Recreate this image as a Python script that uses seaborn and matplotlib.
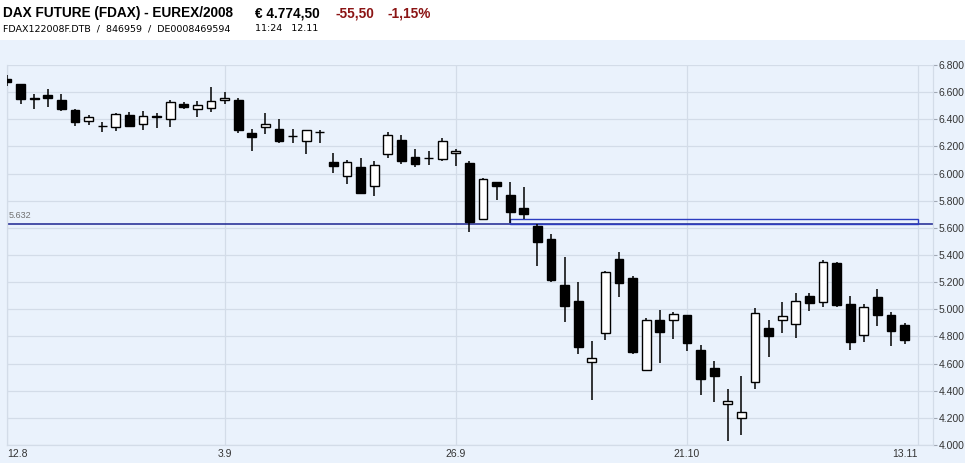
import numpy as np
import pandas as pd
import matplotlib
matplotlib.use("Agg")
import matplotlib.pyplot as plt
from matplotlib.patches import Rectangle
from matplotlib.ticker import MultipleLocator, FuncFormatter
import seaborn as sns

# daily OHLC, FDAX Dec 2008, 12.08.2008 - 12.11.2008
opens = [6697, 6660, 6556, 6579, 6542, 6468, 6390, 6351, 6341, 6429,
         6367, 6422, 6400, 6510, 6474, 6481, 6540, 6542, 6297, 6341,
         6328, 6279, 6242, 6307, 6088, 5980, 6048, 5911, 6142, 6247,
         6120, 6118, 6107, 6154, 6078, 5668, 5938, 5842, 5746, 5616,
         5518, 5179, 5061, 4609, 4823, 5370, 5231, 4555, 4921, 4919,
         4958, 4698, 4565, 4300, 4197, 4462, 4862, 4919, 4889, 5096,
         5052, 5341, 5039, 4809, 5091, 4956, 4882]
highs = [6726, 6662, 6584, 6623, 6584, 6476, 6432, 6382, 6447, 6454,
         6461, 6449, 6544, 6527, 6535, 6640, 6599, 6555, 6326, 6444,
         6400, 6326, 6319, 6321, 6154, 6100, 6115, 6093, 6304, 6286,
         6181, 6164, 6262, 6181, 6093, 5966, 5940, 5940, 5903, 5626,
         5555, 5385, 5203, 4766, 5282, 5424, 5248, 4938, 4995, 4982,
         4960, 4737, 4619, 4413, 4508, 5007, 4921, 5051, 5118, 5120,
         5363, 5348, 5098, 5037, 5150, 4982, 4901]
lows = [6647, 6513, 6474, 6493, 6463, 6351, 6358, 6309, 6316, 6343,
        6321, 6338, 6343, 6478, 6419, 6456, 6513, 6301, 6169, 6292,
        6223, 6223, 6146, 6228, 6006, 5925, 5847, 5835, 6117, 6068,
        6048, 6065, 6095, 6058, 5572, 5658, 5805, 5638, 5663, 5319,
        5203, 4909, 4671, 4332, 4774, 5093, 4671, 4545, 4607, 4781,
        4695, 4368, 4319, 4032, 4074, 4413, 4651, 4828, 4790, 4990,
        5015, 5019, 4698, 4761, 4879, 4730, 4744]
closes = [6672, 6552, 6553, 6555, 6478, 6382, 6415, 6349, 6441, 6353,
          6422, 6418, 6527, 6493, 6505, 6537, 6557, 6321, 6272, 6365,
          6240, 6276, 6319, 6305, 6058, 6085, 5859, 6061, 6284, 6095,
          6073, 6116, 6238, 6169, 5646, 5958, 5911, 5719, 5704, 5498,
          5216, 5027, 4724, 4639, 5275, 5196, 4688, 4921, 4835, 4963,
          4754, 4489, 4511, 4324, 4241, 4971, 4806, 4948, 5059, 5049,
          5346, 5034, 4757, 5015, 4960, 4838, 4775]

tick_labels = ["12.8", "3.9", "26.9", "21.10", "13.11"]
ref_level = 5632
gap_low, gap_high = 5632, 5668
gap_start, gap_end = "2008-10-02", "2008-11-13"

days = pd.bdate_range("2008-08-12", "2008-11-13")
df = pd.DataFrame({"open": opens, "high": highs, "low": lows, "close": closes},
                  index=days[:len(opens)])
df["x"] = np.arange(len(df))
df["up"] = df["close"] >= df["open"]

sns.set_theme(style="whitegrid")
plt.rcParams["font.family"] = ["Liberation Sans", "DejaVu Sans"]

bg = "#eaf2fc"
grid = "#d3dce8"

fig = plt.figure(figsize=(9.65, 4.63), dpi=100, facecolor=bg)
fig.patches.append(Rectangle((0, 1 - 40 / 463), 1, 40 / 463, transform=fig.transFigure,
                             facecolor="white", edgecolor="none", zorder=0))
ax = fig.add_axes([7 / 965, 18 / 463, 926 / 965, 380 / 463])
ax.set_facecolor(bg)

# wicks
ax.vlines(df["x"], df["low"], df["high"], color="black", linewidth=1.1, zorder=3)
# bodies
body_low = df[["open", "close"]].min(axis=1)
body_h = (df["close"] - df["open"]).abs()
ax.bar(df["x"], body_h, bottom=body_low, width=0.66,
       color=np.where(df["up"], "white", "black"), edgecolor="black",
       linewidth=1.0, zorder=4)

# reference line + gap box
ax.axhline(ref_level, color="#1c2590", linewidth=1.1, zorder=2)
x0 = days.get_loc(pd.Timestamp(gap_start))
x1 = days.get_loc(pd.Timestamp(gap_end))
ax.add_patch(Rectangle((x0, gap_low), x1 - x0, gap_high - gap_low, fill=False,
                       edgecolor="#2c3cc0", linewidth=1.0, zorder=2))
ax.text(0.15, ref_level + 25, f"{ref_level:,}".replace(",", "."), fontsize=6.5,
        color="#707070", va="bottom", ha="left")

ax.set_xlim(0, 926 / 13.6)
ax.set_ylim(4000, 6800)
ax.yaxis.set_major_locator(MultipleLocator(200))
ax.yaxis.set_major_formatter(FuncFormatter(lambda v, p: f"{v:,.0f}".replace(",", ".")))
ax.yaxis.tick_right()
ax.tick_params(axis="y", which="major", right=True, length=3, width=0.8, color="#a0a8b4",
               labelsize=7.5, labelcolor="#333333", pad=1)

tick_pos = [days.get_loc(pd.to_datetime(t + ".2008", format="%d.%m.%Y")) for t in tick_labels]
ax.set_xticks(tick_pos)
ax.set_xticklabels(tick_labels)
ax.tick_params(axis="x", length=0, labelsize=7.5, labelcolor="#333333", pad=3)
xt = ax.get_xticklabels()
xt[0].set_ha("left")
xt[-1].set_ha("right")

ax.grid(True, color=grid, linewidth=0.9)
for side in ["left", "bottom", "right"]:
    ax.spines[side].set_color(grid)
    ax.spines[side].set_linewidth(0.9)
ax.spines["top"].set_visible(False)

# header
fig.text(3 / 965, 1 - 17 / 463, "DAX FUTURE (FDAX) - EUREX/2008", fontsize=9.8,
         fontweight="bold", color="black")
fig.text(255 / 965, 1 - 17 / 463, "€ 4.774,50", fontsize=9.8, fontweight="bold", color="black")
fig.text(335 / 965, 1 - 17 / 463, "-55,50", fontsize=9.8, fontweight="bold", color="#8b1414")
fig.text(388 / 965, 1 - 17 / 463, "-1,15%", fontsize=9.8, fontweight="bold", color="#8b1414")
fig.text(3 / 965, 1 - 31 / 463, "FDAX122008F.DTB  /  846959  /  DE0008469594", fontsize=6.8,
         color="black", family="DejaVu Sans")
fig.text(255 / 965, 1 - 31 / 463, "11:24   12.11", fontsize=6.8, color="black",
         family="DejaVu Sans")

fig.savefig("out.png", dpi=100, facecolor=fig.get_facecolor())
